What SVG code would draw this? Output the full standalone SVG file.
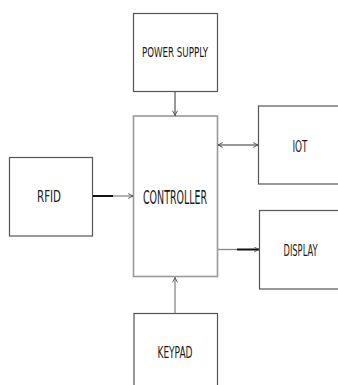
<svg xmlns="http://www.w3.org/2000/svg" width="338" height="385" viewBox="0 0 338 385">
<style>
.box{fill:#fff;stroke:#555;stroke-width:1.2}
.cbox{fill:#fff;stroke:#999;stroke-width:1.6}
.lbl{font-family:"Liberation Sans Narrow","DejaVu Sans Condensed","Liberation Sans",sans-serif;fill:#1a1a1a;text-anchor:middle}
.ln{fill:none;stroke:#333;stroke-width:1}
.gl{fill:none;stroke:#888;stroke-width:1.3}
.tk{fill:none;stroke:#111;stroke-width:2}
</style>
<defs>
<marker id="ah" viewBox="0 0 10 10" refX="9" refY="5" markerWidth="6" markerHeight="6" markerUnits="userSpaceOnUse" orient="auto-start-reverse">
<polyline points="1,1 9,5 1,9" fill="none" stroke="#444" stroke-width="1.4"/>
</marker>
</defs>
<rect width="338" height="385" fill="#fff"/>
<g id="power">
<rect class="box" x="133.5" y="13.5" width="84" height="78"/>
<text class="lbl" x="175" y="57" font-size="14" textLength="66" lengthAdjust="spacingAndGlyphs">POWER SUPPLY</text>
</g>
<g id="controller">
<rect class="cbox" x="133.5" y="116" width="84" height="160.5"/>
<text class="lbl" x="175" y="204" font-size="19" textLength="64" lengthAdjust="spacingAndGlyphs">CONTROLLER</text>
</g>
<g id="rfid">
<rect class="box" x="9.5" y="157.5" width="83" height="78.5"/>
<text class="lbl" x="49" y="201.5" font-size="16" textLength="24" lengthAdjust="spacingAndGlyphs">RFID</text>
</g>
<g id="iot">
<rect class="box" x="258.5" y="106" width="85" height="78"/>
<text class="lbl" x="300" y="151.5" font-size="16" textLength="15" lengthAdjust="spacingAndGlyphs">IOT</text>
</g>
<g id="display">
<rect class="box" x="259.5" y="210.5" width="85" height="78.5"/>
<text class="lbl" x="300.5" y="256" font-size="16" textLength="34" lengthAdjust="spacingAndGlyphs">DISPLAY</text>
</g>
<g id="keypad">
<rect class="box" x="134" y="313.5" width="83.5" height="80"/>
<text class="lbl" x="175" y="358" font-size="16" textLength="35" lengthAdjust="spacingAndGlyphs">KEYPAD</text>
</g>
<g id="connectors">
<line class="ln" x1="175" y1="92" x2="175" y2="115.5" marker-end="url(#ah)"/>
<line class="tk" x1="93" y1="196" x2="113" y2="196"/>
<line class="gl" x1="113" y1="196" x2="133" y2="196" marker-end="url(#ah)"/>
<line class="ln" x1="218" y1="145" x2="258" y2="145" marker-start="url(#ah)" marker-end="url(#ah)"/>
<line class="gl" x1="218" y1="249.5" x2="237" y2="249.5"/>
<line class="tk" x1="237" y1="249.5" x2="259" y2="249.5" marker-end="url(#ah)"/>
<line class="gl" x1="175" y1="313" x2="175" y2="277.5" marker-end="url(#ah)"/>
</g>
</svg>
